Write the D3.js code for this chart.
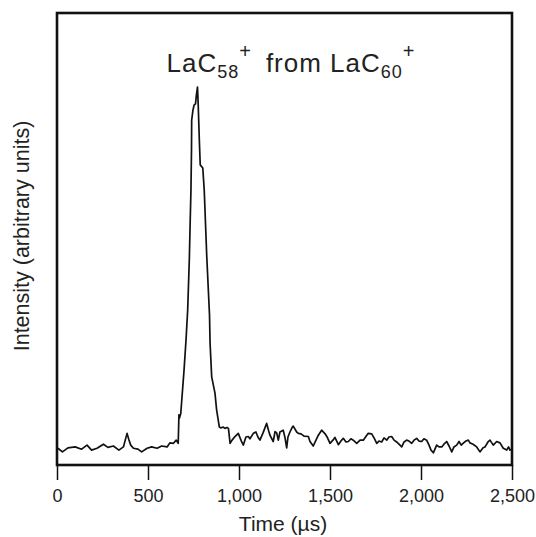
<!DOCTYPE html>
<html>
<head>
<meta charset="utf-8">
<script src="https://cdn.jsdelivr.net/npm/d3@7"></script>
<style>
  html, body { margin: 0; padding: 0; background: #fff; }
  svg { display: block; font-family: "Liberation Sans", Arial, sans-serif; }
</style>
</head>
<body>
<svg id="chart" width="536" height="537"></svg>
<script>
// Time of flight (µs)
const times = [
  5, 30, 60, 100, 135, 165, 190, 220, 255, 280, 310, 340, 365, 375, 385, 395, 405, 420, 445, 465,
  495, 520, 550, 575, 605, 620, 640, 655, 666, 670, 673, 680, 698, 709, 718, 727, 732, 736, 739, 740,
  747, 753, 761, 766, 772, 776, 782, 787, 801, 809, 823, 838, 841, 850, 868, 877, 892, 901, 912, 923,
  934, 942, 951, 962, 978, 996, 1015, 1024, 1038, 1051, 1060, 1079, 1093, 1104, 1115, 1132, 1152, 1162, 1170, 1188,
  1198, 1207, 1216, 1225, 1243, 1253, 1262, 1269, 1280, 1293, 1298, 1317, 1326, 1341, 1357, 1381, 1390, 1408, 1423, 1436,
  1454, 1473, 1484, 1500, 1516, 1527, 1546, 1560, 1573, 1588, 1601, 1615, 1628, 1647, 1665, 1683, 1702, 1710, 1729, 1742,
  1757, 1769, 1784, 1797, 1812, 1824, 1839, 1852, 1866, 1879, 1894, 1907, 1921, 1934, 1949, 1962, 1976, 1989, 2004, 2016,
  2031, 2044, 2055, 2068, 2086, 2099, 2114, 2126, 2141, 2154, 2169, 2181, 2196, 2209, 2221, 2234, 2247, 2260, 2269, 2286,
  2306, 2324, 2341, 2352, 2368, 2379, 2397, 2416, 2434, 2452, 2471, 2481, 2489, 2500
];
// Intensity (arbitrary units)
const intensity = [
  3.7, 2.9, 3.8, 4.0, 3.5, 4.4, 3.3, 3.7, 4.6, 3.9, 4.2, 3.3, 4.0, 5.5, 7.0, 5.6, 4.4, 3.7, 3.5, 2.9,
  3.7, 4.0, 3.7, 4.2, 4.0, 4.9, 4.8, 5.5, 4.8, 11.1, 10.4, 11.4, 21.0, 27.7, 34.3, 45.4, 54.2, 60.8, 69.7, 76.3,
  78.5, 79.6, 79.9, 81.9, 83.6, 79.6, 71.9, 66.4, 65.7, 60.8, 46.0, 33.2, 27.0, 19.5, 15.9, 12.2, 8.4, 8.2, 8.4, 8.1,
  8.3, 8.1, 4.8, 5.5, 6.3, 7.0, 5.1, 4.4, 6.2, 6.3, 5.8, 7.0, 7.3, 6.2, 5.5, 7.1, 9.2, 7.7, 6.6, 5.2,
  7.4, 7.1, 5.5, 7.3, 7.7, 6.0, 3.8, 6.2, 7.3, 8.4, 8.6, 7.3, 7.0, 6.9, 6.4, 6.3, 5.2, 4.2, 5.5, 6.6,
  7.7, 6.9, 6.2, 4.8, 5.5, 6.1, 4.5, 5.3, 5.9, 5.1, 5.2, 5.8, 5.5, 4.8, 5.5, 5.5, 6.6, 7.0, 6.9, 6.0,
  4.8, 5.3, 5.1, 6.0, 5.5, 6.2, 6.3, 5.5, 5.1, 4.6, 4.0, 5.1, 5.5, 5.3, 4.8, 5.5, 5.9, 5.3, 5.2, 5.8,
  5.5, 4.4, 3.3, 2.7, 4.4, 4.0, 4.0, 4.6, 5.2, 4.2, 2.9, 4.0, 4.4, 5.2, 4.4, 4.9, 5.3, 5.5, 4.9, 4.6,
  4.0, 2.9, 3.8, 4.0, 5.1, 5.5, 4.4, 5.2, 4.9, 3.7, 3.3, 4.0, 3.3, 3.5
];
const xTicks = [0, 500, 1000, 1500, 2000, 2500];
const xDomain = [0, 2500];
const yDomain = [0, 100];

const svg = d3.select("#chart");
const mLeft = 57, mRight = 512, mTop = 13, mBottom = 465;

const x = d3.scaleLinear().domain(xDomain).range([mLeft, mRight]);
const y = d3.scaleLinear().domain(yDomain).range([mBottom, mTop]);

const data = times.map((t, i) => ({ t, v: intensity[i] }));

// trace
svg.append("path")
  .datum(data)
  .attr("fill", "none")
  .attr("stroke", "#111")
  .attr("stroke-width", 1.7)
  .attr("stroke-linejoin", "round")
  .attr("d", d3.line().x(d => x(d.t)).y(d => y(d.v)));

// frame
svg.append("rect")
  .attr("x", mLeft).attr("y", mTop)
  .attr("width", mRight - mLeft).attr("height", mBottom - mTop)
  .attr("fill", "none").attr("stroke", "#111").attr("stroke-width", 2.6);

// x axis
const ax = svg.append("g")
  .attr("transform", `translate(0,${mBottom})`)
  .call(d3.axisBottom(x).tickValues(xTicks).tickSize(15).tickSizeOuter(0).tickFormat(d3.format(",")));
ax.select(".domain").remove();
ax.selectAll(".tick line").attr("stroke", "#111").attr("stroke-width", 1.5);
ax.selectAll(".tick text")
  .attr("y", 24)
  .attr("dy", "0.71em")
  .attr("fill", "#222")
  .style("font-size", "18px")
  .style("font-family", "'Liberation Sans', Arial, sans-serif");

// x title
svg.append("text")
  .attr("x", 283).attr("y", 531)
  .attr("text-anchor", "middle")
  .attr("fill", "#222")
  .style("font-size", "21px")
  .text("Time (µs)");

// y title
svg.append("text")
  .attr("transform", `translate(29,236) rotate(-90)`)
  .attr("text-anchor", "middle")
  .attr("fill", "#222")
  .style("font-size", "21.5px")
  .text("Intensity (arbitrary units)");

// title
const title = svg.append("text")
  .attr("x", 291).attr("y", 72)
  .attr("text-anchor", "middle")
  .attr("fill", "#222")
  .style("font-size", "26px")
  .style("letter-spacing", "1px");
title.append("tspan").text("LaC");
title.append("tspan").attr("dy", 6).style("font-size", "18px").text("58");
title.append("tspan").attr("dy", -20).style("font-size", "20px").text("+");
title.append("tspan").attr("dy", 14).text("\u2002from LaC");
title.append("tspan").attr("dy", 6).style("font-size", "18px").text("60");
title.append("tspan").attr("dy", -20).style("font-size", "20px").text("+");
</script>
</body>
</html>
